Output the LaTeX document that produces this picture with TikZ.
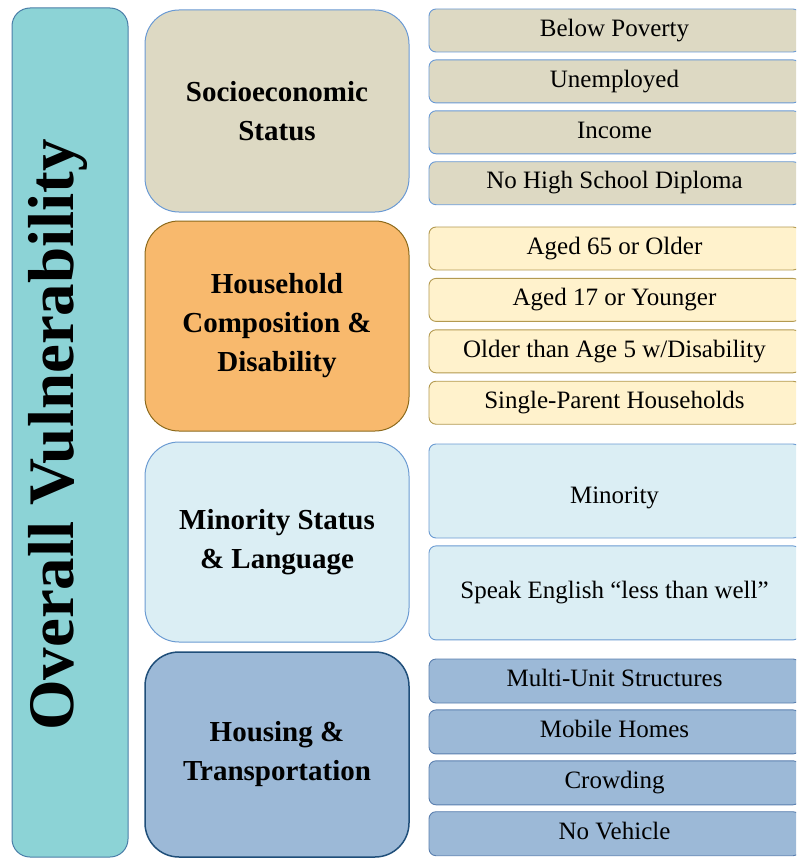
\documentclass[tikz,border=0pt]{standalone}
\usepackage{fontspec}
\setmainfont{Liberation Serif}
\usepackage{xcolor}
\usetikzlibrary{positioning}

\definecolor{barfill}{HTML}{8CD3D6}
\definecolor{bardraw}{HTML}{4A7EA8}
\definecolor{socfill}{HTML}{DDD9C3}
\definecolor{socdraw}{HTML}{6A9AD4}
\definecolor{hhfill}{HTML}{F8B96D}
\definecolor{hhdraw}{HTML}{8C6A1C}
\definecolor{hhitemfill}{HTML}{FFF2CC}
\definecolor{hhitemdraw}{HTML}{B39A50}
\definecolor{minfill}{HTML}{DBEEF4}
\definecolor{mindraw}{HTML}{6B9BD2}
\definecolor{houfill}{HTML}{9CB9D7}
\definecolor{houdraw}{HTML}{1F4E79}
\definecolor{houitemdraw}{HTML}{5A7FAF}

\begin{document}
\begin{tikzpicture}[
  x=1pt, y=-1pt,
  node distance=7pt,
  box/.style={draw, align=center, inner sep=0pt},
  bar/.style={box, rounded corners=18pt, fill=barfill, draw=bardraw, line width=1pt,
    minimum width=116pt, minimum height=849pt},
  title/.style={rotate=90, inner sep=0pt, font=\fontsize{65}{70}\selectfont\bfseries},
  cat/.style={box, rounded corners=34pt, minimum width=264pt, line width=1pt,
    font=\fontsize{29}{39}\selectfont\bfseries},
  item/.style={box, rounded corners=7pt, minimum width=371pt, minimum height=43pt,
    line width=0.9pt, text height=17pt, text depth=5.5pt,
    font=\fontsize{25}{30}\selectfont},
  socitem/.style={item, fill=socfill, draw=socdraw},
  hhitem/.style={item, fill=hhitemfill, draw=hhitemdraw},
  minitem/.style={item, fill=minfill, draw=mindraw, minimum height=94pt},
  houitem/.style={item, fill=houfill, draw=houitemdraw, minimum height=44pt}
]
\useasboundingbox (0,0) rectangle (796,859);
\clip (0,0) rectangle (796,859);

% ------------------------------------------------------------
% Left: overall bar
% ------------------------------------------------------------
\node[bar] (overall) at (70,432.5) {};
\node[title] (overalltxt) at (58,435) {Overall Vulnerability};

% ------------------------------------------------------------
% Middle: themes
% ------------------------------------------------------------
\node[cat, fill=socfill, draw=socdraw, minimum height=202pt] (soc) at (277,111)
  {Socioeconomic\\Status};
\node[cat, fill=hhfill, draw=hhdraw, minimum height=210pt] (hh) at (277,326)
  {Household\\Composition \&\\Disability};
\node[cat, fill=minfill, draw=mindraw, minimum height=200pt] (min) at (277,542)
  {Minority Status\\\& Language};
\node[cat, fill=houfill, draw=houdraw, line width=1.5pt, minimum height=205pt] (hou) at (277,754.5)
  {Housing \&\\Transportation};

% ------------------------------------------------------------
% Right: variables
% ------------------------------------------------------------
\node[socitem] (poverty) at (614.5,30.5) {Below Poverty};
\node[socitem, below=of poverty] (unemployed) {Unemployed};
\node[socitem, below=of unemployed] (income) {Income};
\node[socitem, below=of income] (diploma) {No High School Diploma};

\node[hhitem] (aged65) at (614.5,248.5) {Aged 65 or Older};
\node[hhitem, below=7.5pt of aged65] (aged17) {Aged 17 or Younger};
\node[hhitem, below=7.5pt of aged17] (disability) {Older than Age 5 w/Disability};
\node[hhitem, below=7.5pt of disability] (singleparent) {Single-Parent Households};

\node[minitem, text height=30pt] (minority) at (614.5,491) {Minority};
\node[minitem, below=of minority] (english) {Speak English “less than well”};

\node[houitem] (multiunit) at (614.5,681) {Multi-Unit Structures};
\node[houitem, below=6pt of multiunit] (mobile) {Mobile Homes};
\node[houitem, below=6pt of mobile] (crowding) {Crowding};
\node[houitem, below=6pt of crowding] (vehicle) {No Vehicle};

\end{tikzpicture}
\end{document}
